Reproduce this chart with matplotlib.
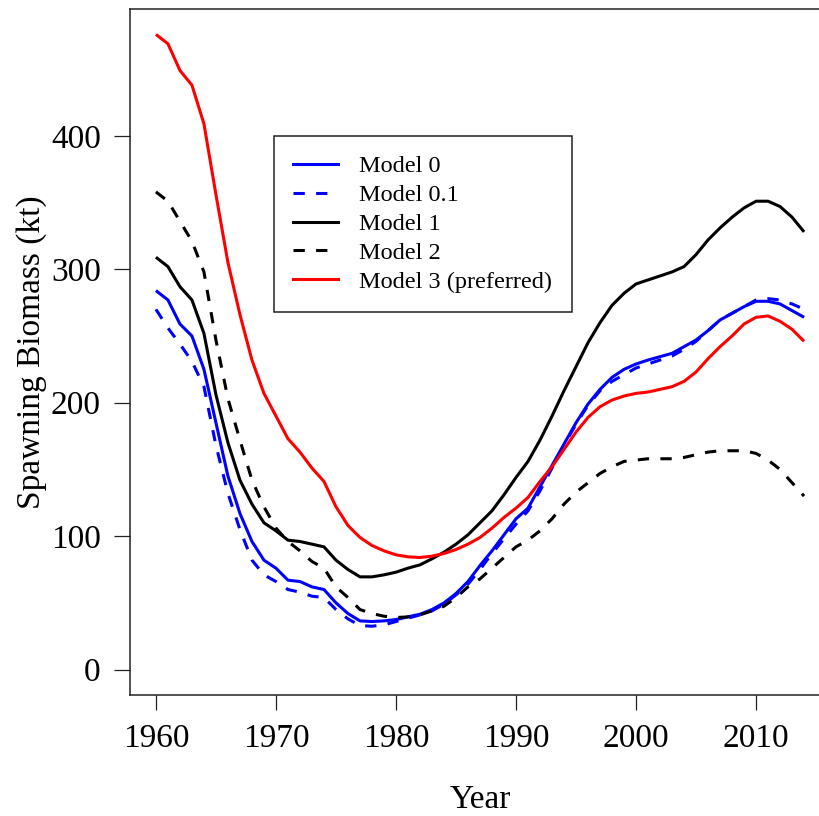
import matplotlib
matplotlib.use("Agg")
import matplotlib.pyplot as plt
from matplotlib.lines import Line2D

years = list(range(1960, 2015))

model_0 = [284, 277, 259, 250, 225, 185, 145, 117, 96, 82,
           76, 67, 66, 62, 60, 50, 42, 36.5, 36, 36.5,
           37.5, 39.5, 41.5, 45, 50, 57, 66, 78, 89, 101,
           113, 121, 137, 153, 169, 185, 199, 210, 219, 225,
           229, 232, 234.5, 237, 242, 247, 254, 262, 267, 272,
           276, 276, 274, 269, 264]

model_0_1 = [270, 256, 244, 231, 212, 168, 132, 105, 82, 71,
             66, 60, 58, 55, 54, 45, 38, 33, 32.5, 33.5,
             36, 38.5, 41, 44, 49, 56, 64, 75, 87, 98,
             109, 119, 134, 151, 168, 184, 198, 209, 216, 221,
             226, 229, 232, 235, 240, 246, 254, 262, 267, 272,
             277, 278, 277, 274, 270]

model_1 = [309, 302, 287, 277, 252, 206, 170, 142, 124, 110,
           104, 97, 96, 94, 92, 82, 75, 69.5, 69.5, 71,
           73, 76, 78.5, 83, 88, 94, 101, 110, 119, 131,
           144, 156, 172, 190, 209, 227, 245, 260, 273, 282,
           289, 292, 295, 298, 302, 311, 322, 331, 339, 346,
           351, 351, 347, 339, 328]

model_2 = [358, 351, 336, 321, 298, 247, 203, 172, 142, 122,
           106, 96, 89, 81, 76, 62, 54, 45, 42, 40,
           39, 39.5, 41, 44, 47.5, 54, 62, 68, 76, 84,
           92, 97, 104, 113, 124, 133, 140, 147, 152, 156,
           157, 158, 158, 158, 159, 161, 163, 164, 164, 164,
           162, 157, 150, 140, 130]

model_3 = [476, 469, 449, 438, 409, 356, 305, 266, 232, 207,
           190, 173, 163, 151, 141, 122, 108, 99, 93, 89,
           86, 84.5, 84, 85, 87, 90, 94, 99, 106, 114,
           121, 129, 141, 152, 165, 178, 189, 197, 202, 205,
           207, 208, 210, 212, 216, 223, 233, 242, 250, 259,
           264, 265, 261, 255, 246]

series_labels = ["Model 0", "Model 0.1", "Model 1", "Model 2", "Model 3 (preferred)"]
x_ticks = [1960, 1970, 1980, 1990, 2000, 2010]
y_ticks = [0, 100, 200, 300, 400]

plt.rcParams["font.family"] = ["Liberation Serif", "DejaVu Serif"]

W, H = 820, 816
fig = plt.figure(figsize=(W / 100, H / 100), dpi=100)
# plot region in pixels: left 130, right 830 (runs past the canvas), top 9, bottom 695
ax = fig.add_axes([130 / W, 1 - 695 / H, 700 / W, 686 / H])

dash = (0, (3.7, 3.7))
lw = 2.2
series = [
    (model_0, "#0000ff", "-"),
    (model_0_1, "#0000ff", dash),
    (model_1, "#000000", "-"),
    (model_2, "#000000", dash),
    (model_3, "#ff0000", "-"),
]
for vals, col, ls in series:
    ax.plot(years, vals, color=col, linestyle=ls, linewidth=lw,
            solid_joinstyle="round", solid_capstyle="butt", dash_capstyle="butt")

span = years[-1] - years[0]
ax.set_xlim(years[0] - 0.04 * span, years[-1] + 0.04 * span)
ymax = max(model_3)
ax.set_ylim(-0.04 * ymax, ymax * 1.04)

ax.set_xticks(x_ticks)
ax.set_yticks(y_ticks)
ax.tick_params(axis="both", direction="out", width=0.9,
               labelsize=24, color="#222222")
ax.tick_params(axis="x", length=10.8, pad=10.0)
ax.tick_params(axis="y", length=11.5, pad=9.5)

for side in ("left", "bottom", "top", "right"):
    ax.spines[side].set_linewidth(1.1)
    ax.spines[side].set_color("#222222")

ax.set_xlabel("Year", fontsize=24, labelpad=22)
ax.set_ylabel("Spawning Biomass (kt)", fontsize=24, labelpad=3)

handles = [Line2D([0], [0], color=c, linestyle=ls, linewidth=lw) for _, c, ls in series]
leg = ax.legend(handles, series_labels, loc="upper left",
                bbox_to_anchor=(274 / W, 1 - 136 / H), bbox_transform=fig.transFigure,
                fontsize=17.5, frameon=True, fancybox=False, shadow=False,
                handlelength=1.85, handletextpad=0.85, labelspacing=0.28,
                borderpad=0.8, borderaxespad=0.0)
frame = leg.get_frame()
frame.set_edgecolor("#222222")
frame.set_linewidth(1.1)
frame.set_facecolor("white")
frame.set_alpha(1.0)

fig.savefig("out.png", dpi=100)
